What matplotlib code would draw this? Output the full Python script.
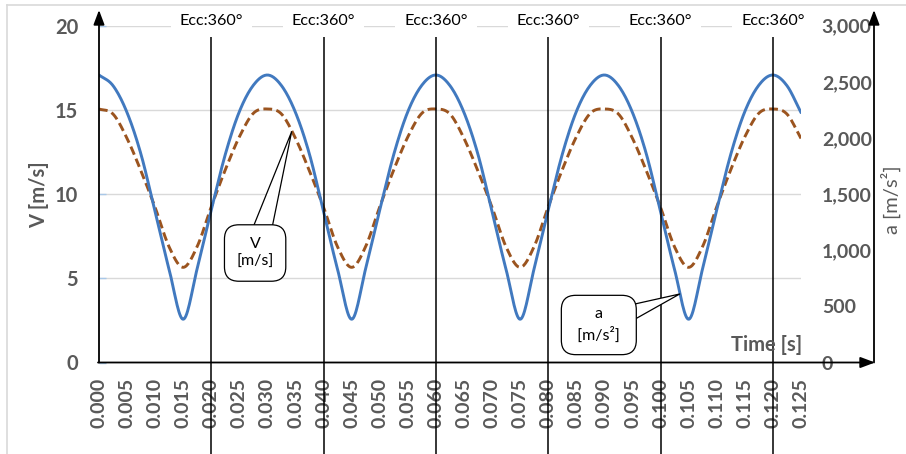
import numpy as np
import matplotlib
matplotlib.use("Agg")
import matplotlib.pyplot as plt
from matplotlib.patches import FancyArrowPatch
from matplotlib.lines import Line2D
import matplotlib.transforms as mtransforms

# ---------------- data ----------------
time_s = np.linspace(0.0, 0.125, 51)          # sample instants [s]

# acceleration a [m/s^2] (right axis)
accel = [2560, 2465, 2225, 1850, 1340, 825, 385, 840, 1360, 1855, 2235, 2470,
         2560, 2465, 2225, 1850, 1340, 825, 385, 840, 1360, 1855, 2235, 2470,
         2560, 2465, 2225, 1850, 1340, 825, 385, 840, 1360, 1855, 2235, 2470,
         2560, 2465, 2225, 1850, 1340, 825, 385, 840, 1360, 1855, 2235, 2470,
         2560, 2465, 2225]

# velocity V [m/s] (left axis)
velocity = [15.05, 14.75, 13.3, 11.35, 9.2, 6.85, 5.65, 6.9, 9.25, 11.45, 13.4, 14.8,
            15.05, 14.75, 13.3, 11.35, 9.2, 6.85, 5.65, 6.9, 9.25, 11.45, 13.4, 14.8,
            15.05, 14.75, 13.3, 11.35, 9.2, 6.85, 5.65, 6.9, 9.25, 11.45, 13.4, 14.8,
            15.05, 14.75, 13.3, 11.35, 9.2, 6.85, 5.65, 6.9, 9.25, 11.45, 13.4, 14.8,
            15.05, 14.75, 13.3]

x_ticks = [round(0.005 * i, 3) for i in range(26)]
x_tick_labels = [f"{v:.3f}" for v in x_ticks]
v_ticks = [0, 5, 10, 15, 20]
a_ticks = [0, 500, 1000, 1500, 2000, 2500, 3000]
a_tick_labels = ["0", "500", "1,000", "1,500", "2,000", "2,500", "3,000"]
ecc_times = [0.020, 0.040, 0.060, 0.080, 0.100, 0.120]
ecc_label = "Ecc:360°"


def smooth_curve(x, y, n=16):
    """Catmull-Rom interpolation through the points (smoothed line)."""
    x = np.asarray(x, float)
    y = np.asarray(y, float)
    P = np.column_stack([x, y])
    P = np.vstack([2 * P[0] - P[1], P, 2 * P[-1] - P[-2]])
    s = np.linspace(0, 1, n, endpoint=False)[:, None]
    out = []
    for i in range(1, len(P) - 2):
        p0, p1, p2, p3 = P[i - 1], P[i], P[i + 1], P[i + 2]
        seg = 0.5 * ((2 * p1) + (-p0 + p2) * s
                     + (2 * p0 - 5 * p1 + 4 * p2 - p3) * s ** 2
                     + (-p0 + 3 * p1 - 3 * p2 + p3) * s ** 3)
        out.append(seg)
    out.append(P[-2][None, :])
    out = np.vstack(out)
    return out[:, 0], out[:, 1]


# ---------------- figure ----------------
W, H = 906, 454
fig = plt.figure(figsize=(W / 100, H / 100), dpi=100)
fig.patch.set_facecolor("white")

FONT = ["Lato", "DejaVu Sans"]
GRAY = "#595959"
BLUE = "#4179bf"
BROWN = "#9b541f"


def fx(px):
    return px / W


def fy(py):
    return 1 - py / H


# outer chart frame (top and left edges)
fig.add_artist(Line2D([fx(7), 1.0], [fy(5), fy(5)], color="#d9d9d9", lw=1.2,
                      transform=fig.transFigure))
fig.add_artist(Line2D([fx(7), fx(7)], [fy(5), 0.0], color="#d9d9d9", lw=1.2,
                      transform=fig.transFigure))

x0, x1, ytop, ybot = 99, 801, 25.6, 362.5
ax = fig.add_axes([fx(x0), fy(ybot), (x1 - x0) / W, (ybot - ytop) / H])
ax.set_xlim(0, 0.125)
ax.set_ylim(0, 20)
ax.patch.set_alpha(0)
ax2 = ax.twinx()
ax2.set_ylim(0, 3000)
for a in (ax, ax2):
    for sp in a.spines.values():
        sp.set_visible(False)

# grid
for v in v_ticks[1:]:
    ax.axhline(v, color="#d9d9d9", lw=1.0, zorder=0)

# ticks
ax.set_xticks(x_ticks)
ax.set_xticklabels(x_tick_labels, rotation=90, family=FONT, weight="bold",
                   fontsize=14, color=GRAY)
ax.tick_params(axis="x", length=0, pad=11)
ax.set_yticks(v_ticks)
ax.set_yticklabels([str(v) for v in v_ticks], family=FONT, weight="bold",
                   fontsize=14.5, color=GRAY)
ax.tick_params(axis="y", direction="in", length=5, width=1, color="#a9c8e8", pad=15)
ax2.set_yticks(a_ticks)
ax2.set_yticklabels(a_tick_labels, family=FONT, weight="bold", fontsize=14,
                    color=GRAY)
ax2.tick_params(axis="y", length=0, pad=15)

# series
tv, vv = smooth_curve(time_s, velocity)
ax.plot(tv, vv, color=BROWN, lw=2.1, dashes=(3.0, 1.5), zorder=3)
ta, aa = smooth_curve(time_s, accel)
ax2.plot(ta, aa, color=BLUE, lw=2.1, zorder=3, solid_capstyle="round")

# eccentric reference lines with labels
ymin_frac = -(H - ybot) / (ybot - ytop)
ymax_frac = (ybot - 34) / (ybot - ytop)
trans_lbl = mtransforms.blended_transform_factory(ax2.transData, fig.transFigure)
for t in ecc_times:
    ax2.axvline(t, ymin=ymin_frac, ymax=ymax_frac, color="black", lw=1.1,
                clip_on=False, zorder=4)
    ax2.text(t, fy(21), ecc_label, transform=trans_lbl, ha="center", va="center",
             family=FONT, fontsize=11.6, color="black", zorder=6,
             bbox=dict(boxstyle="square,pad=0.55", fc="white", ec="none"))

# axis lines with arrow heads
arrow_kw = dict(arrowstyle="-|>,head_length=0.8,head_width=0.3", mutation_scale=11,
                color="black", lw=1.3, shrinkA=0, shrinkB=0,
                transform=fig.transFigure, zorder=7)
fig.add_artist(FancyArrowPatch((fx(99), fy(ybot)), (fx(99), fy(10)), **arrow_kw))
fig.add_artist(FancyArrowPatch((fx(98), fy(ybot)), (fx(875), fy(ybot)), **arrow_kw))
fig.add_artist(FancyArrowPatch((fx(874), fy(ybot)), (fx(874), fy(10)), **arrow_kw))

# axis titles
fig.text(fx(39), fy(195), "V [m/s]", rotation=90, ha="center", va="center",
         family=FONT, weight="bold", fontsize=14.5, color=GRAY)
fig.text(fx(891), fy(200), "a [m/s²]", rotation=90, ha="center", va="center",
         family=FONT, fontsize=14.5, color=GRAY)
fig.text(fx(767), fy(345), "Time [s]", ha="center", va="center",
         family=FONT, weight="bold", fontsize=14.5, color=GRAY)

# callouts
ax.annotate("V\n[m/s]", xy=(0.0343, 13.7), xytext=(0.0278, 6.5),
            ha="center", va="center", family=FONT, fontsize=11.5, linespacing=1.4,
            bbox=dict(boxstyle="round,pad=0.75,rounding_size=0.9", fc="white",
                      ec="black", lw=0.9),
            arrowprops=dict(arrowstyle="wedge,tail_width=1.45,shrink_factor=0.5",
                            fc="white", ec="black", lw=0.9, patchA=None,
                            shrinkA=0, shrinkB=0),
            zorder=8)
ax2.annotate("a\n [m/s²] ", xy=(0.1034, 610), xytext=(0.0890, 334),
             ha="center", va="center", family=FONT, fontsize=11.5, linespacing=1.4,
             bbox=dict(boxstyle="round,pad=0.75,rounding_size=0.9", fc="white",
                       ec="black", lw=0.9),
             arrowprops=dict(arrowstyle="wedge,tail_width=1.6,shrink_factor=0.5",
                             fc="white", ec="black", lw=0.9, patchA=None,
                             shrinkA=0, shrinkB=0),
             zorder=8)

fig.savefig("out.png", dpi=100)
